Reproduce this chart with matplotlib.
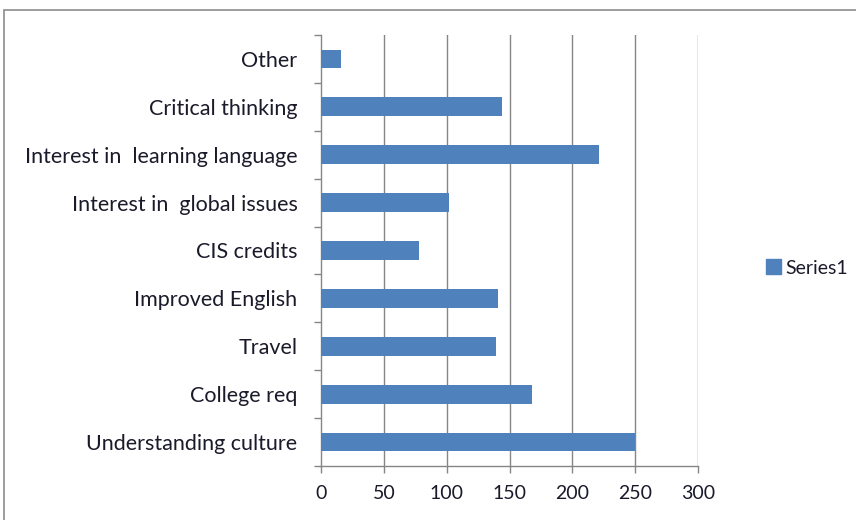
import matplotlib
matplotlib.use("Agg")
import matplotlib.pyplot as plt
from matplotlib.patches import Rectangle, Patch
from matplotlib.ticker import FixedLocator

categories = ["Understanding culture", "College req", "Travel", "Improved English",
              "CIS credits", "Interest in  global issues", "Interest in  learning language",
              "Critical thinking", "Other"]
values = [250, 168, 139, 141, 78, 102, 221, 144, 16]
x_ticks = [0, 50, 100, 150, 200, 250, 300]
series_name = "Series1"

plt.rcParams['font.family'] = ['Lato', 'DejaVu Sans']
bar_color = "#4F81BD"
grid_color = "#868686"
text_color = "#1a1a2a"

fig = plt.figure(figsize=(8.56, 5.2), dpi=100)
fig.patches.append(Rectangle((4/856, -0.05), 1.0, 1 - 10/520 + 0.05, transform=fig.transFigure,
                             fill=False, edgecolor="#8c8c8c", linewidth=1.2))
ax = fig.add_axes([321/856, 1 - 466/520, (698 - 321)/856, (466 - 35)/520])

y = list(range(len(categories)))
ax.barh(y, values, height=0.39, color=bar_color, zorder=3)
ax.set_xlim(0, 300)
ax.set_ylim(-0.5, len(categories) - 0.5)
ax.set_xticks(x_ticks)
ax.set_xticklabels([str(t) for t in x_ticks], fontsize=14, color=text_color)
ax.set_yticks(y)
ax.set_yticklabels(categories, fontsize=15.5, color=text_color)
ax.tick_params(axis='y', length=0, pad=17)
ax.yaxis.set_minor_locator(FixedLocator([i - 0.5 for i in range(len(categories) + 1)]))
ax.tick_params(axis='y', which='minor', length=5, color=grid_color, direction='out', width=1)
ax.tick_params(axis='x', length=5, color=grid_color, width=1, pad=9)
for xv in x_ticks[1:]:
    ax.axvline(xv, color=grid_color, linewidth=1, zorder=1)
for s in ["top", "right"]:
    ax.spines[s].set_visible(False)
for s in ["left", "bottom"]:
    ax.spines[s].set_color(grid_color)
    ax.spines[s].set_linewidth(1)

leg = fig.legend(handles=[Patch(color=bar_color, label=series_name)], loc="center left",
                 bbox_to_anchor=(748/856, 1 - 268/520), frameon=False, fontsize=14,
                 handlelength=0.8, handleheight=0.8, handletextpad=0.2,
                 labelcolor=text_color)

fig.savefig("out.png", dpi=100)
